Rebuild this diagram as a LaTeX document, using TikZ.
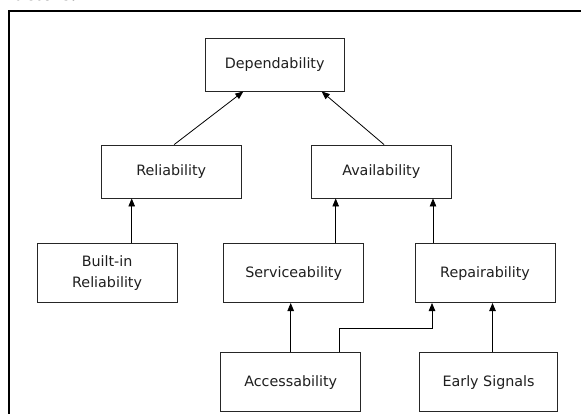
\documentclass[tikz,border=0pt]{standalone}
\usepackage{fontspec}
\setmainfont{DejaVu Sans}
\newfontfamily\serifbold{Liberation Serif}
\usetikzlibrary{arrows.meta}
\begin{document}
\begin{tikzpicture}[x=1pt,y=-1pt,
  blk/.style={draw=black!85,line width=0.9pt,fill=white,inner sep=0pt,
    text=black!88,font=\fontsize{14.3}{20.5}\selectfont,align=center},
  arr/.style={draw=black,line width=0.8pt,-{Triangle[length=8pt,width=6.5pt]}}]
\useasboundingbox (0,0) rectangle (581,414);
\begin{scope}
\clip (0,0) rectangle (581,414);
\fill[white] (0,0) rectangle (581,414);
\node[anchor=base west,inner sep=0pt,font=\serifbold\bfseries\fontsize{21.5}{22}\selectfont] (cap) at (7.3,0.4) {factors.};
\draw[line width=2pt] (9,700) -- (9,10.8) -- (700,10.8);
\end{scope}
\node[blk,minimum width=139.3pt,minimum height=52.7pt] (dep) at (274.7,64.7) {Dependability};
\node[blk,minimum width=139.7pt,minimum height=53pt] (rel) at (171.2,171.5) {Reliability};
\node[blk,minimum width=139.3pt,minimum height=53pt] (ava) at (381.3,171.5) {Availability};
\node[blk,minimum width=139.8pt,minimum height=58.7pt] (bir) at (107.1,273.2) {Built-in\\Reliability};
\node[blk,minimum width=139.8pt,minimum height=58.7pt] (ser) at (293.7,273.2) {Serviceability};
\node[blk,minimum width=140pt,minimum height=58.7pt] (rep) at (485,273.2) {Repairability};
\node[blk,minimum width=139.8pt,minimum height=59.5pt] (acc) at (290.7,382.1) {Accessability};
\node[blk,minimum width=137.9pt,minimum height=59.5pt] (ear) at (488.6,382.1) {Early Signals};
\draw[arr] ([xshift=3pt]rel.north) -- ([xshift=-31.4pt]dep.south);
\draw[arr] ([xshift=2.7pt]ava.north) -- ([xshift=47pt]dep.south);
\draw[arr] ([xshift=24.6pt]bir.north) coordinate (b1) -- (b1 |- rel.south);
\draw[arr] ([xshift=42pt]ser.north) coordinate (s1) -- (s1 |- ava.south);
\draw[arr] ([xshift=-52pt]rep.north) coordinate (r1) -- (r1 |- ava.south);
\draw[arr] (acc.north) -- (acc.north |- ser.south);
\draw[arr] ([xshift=48.3pt]acc.north) coordinate (a1) -- ++(0,-23.4) coordinate (a2) -| ([xshift=-53pt]rep.south);
\draw[arr] ([xshift=3.9pt]ear.north) coordinate (e1) -- (e1 |- rep.south);
\end{tikzpicture}
\end{document}
